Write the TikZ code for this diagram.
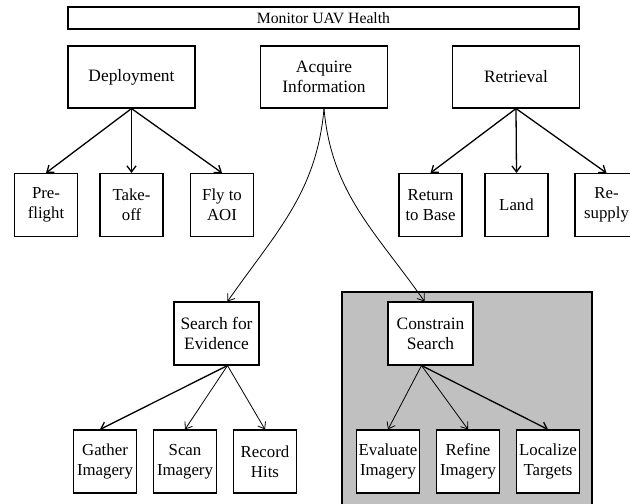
\documentclass[tikz,border=0pt]{standalone}
\usepackage{fontspec}
\setmainfont{Liberation Serif}
\usepackage{tikz}
\usetikzlibrary{arrows.meta}
\definecolor{panelgray}{HTML}{C0C0C0}

\begin{document}
\begin{tikzpicture}[x=1pt, y=-1pt,
  box/.style={draw, fill=white, line width=1.1pt, align=center, inner sep=0pt, font=\fontsize{17.4}{20}\selectfont},
  phasebox/.style={box, minimum width=127pt, minimum height=62pt},
  midbox/.style={box, minimum width=85pt, minimum height=63pt},
  leafbox/.style={box, minimum width=63pt, minimum height=63pt, font=\fontsize{16.8}{20}\selectfont},
  link/.style={-{Straight Barb[length=6pt,width=9pt]}, line width=0.8pt},
  heavylink/.style={link, line width=1.3pt}]

  \clip (0,0) rectangle (630,504);
  \fill[white] (0,0) rectangle (630,504);

  % shaded panel behind the constrain branch
  \filldraw[fill=panelgray, line width=1.1pt] (342,292) rectangle (592,520);

  % top bar
  \node[box, minimum width=511pt, minimum height=22pt, font=\fontsize{15.7}{18}\selectfont] (health) at (323.5,18) {Monitor UAV Health};

  % mission phases
  \node[phasebox] (deploy) at (131.5,77) {Deployment};
  \node[phasebox] (acquire) at (324,77) {Acquire\\Information};
  \node[phasebox] (retrieve) at (516,77) {Retrieval};

  % phase steps
  \foreach \name/\x/\txt in {pre/46/{Pre-\\flight}, take/131.5/{Take-\\off}, fly/222/{Fly to\\AOI},
      ret/430.5/{Return\\to Base}, land/516.5/{Land}, resup/606.5/{Re-\\supply}}
    \node[leafbox] (\name) at (\x,205) {\txt};

  \foreach \leaf in {pre,take,fly}
    \draw[heavylink] (deploy.south) -- (\leaf.north);
  \foreach \leaf in {ret,land,resup}
    \draw[heavylink] (retrieve.south) -- (\leaf.north);

  % information branches
  \node[midbox] (search) at (216.5,333.5) {Search for\\Evidence};
  \node[midbox] (constrain) at (430.5,333.5) {Constrain\\Search};

  \draw[link] (acquire.south) to[out=-95, in=55] ([xshift=11pt]search.north);
  \draw[link] (acquire.south) to[out=-85, in=125] ([xshift=-6pt]constrain.north);

  % search and constrain steps
  \foreach \name/\x/\txt in {gather/105/{Gather\\Imagery}, scan/185/{Scan\\Imagery}, record/265/{Record\\Hits},
      evaluate/388/{Evaluate\\Imagery}, refine/468/{Refine\\Imagery}, localize/548/{Localize\\Targets}}
    \node[leafbox] (\name) at (\x,461.5) {\txt};

  \draw[heavylink] ([xshift=11pt]search.south) -- ([xshift=-5pt]gather.north);
  \foreach \leaf in {scan,record}
    \draw[link] ([xshift=11pt]search.south) -- (\leaf.north);
  \foreach \leaf in {evaluate,refine}
    \draw[link] ([xshift=-9pt]constrain.south) -- (\leaf.north);
  \draw[heavylink] ([xshift=-9pt]constrain.south) -- (localize.north);
\end{tikzpicture}
\end{document}
